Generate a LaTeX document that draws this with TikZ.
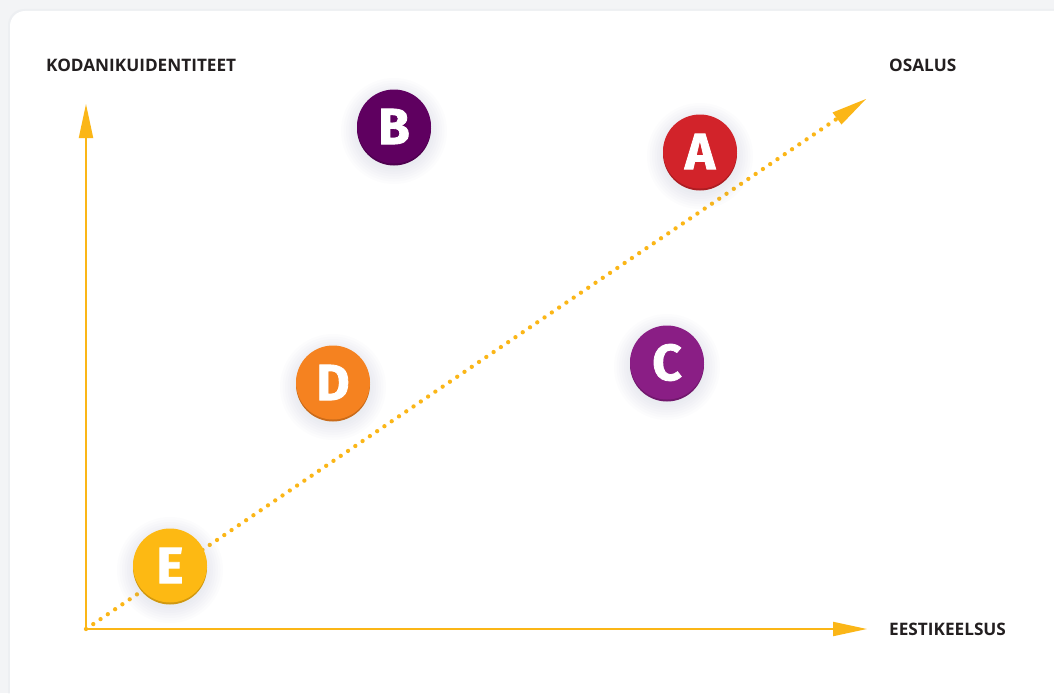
\documentclass[tikz,border=0pt]{standalone}
\usepackage{fontspec}
\setmainfont{Open Sans}
\newfontfamily\letterfont[FakeBold=1.6]{Fira Sans}
\usetikzlibrary{arrows.meta,calc}
\definecolor{axisyellow}{HTML}{FBB617}
\definecolor{cA}{HTML}{D2232A}
\definecolor{cB}{HTML}{5F0060}
\definecolor{cC}{HTML}{8A1E85}
\definecolor{cD}{HTML}{F58220}
\definecolor{cE}{HTML}{FDB913}
\definecolor{labeltext}{HTML}{231F20}
\definecolor{pagebg}{HTML}{F3F4F6}
\definecolor{shadowcol}{HTML}{8C9BB0}
\tikzset{
  axisline/.style={draw=axisyellow, line width=2pt, -{Triangle[length=34pt,width=14pt]}},
  dotline/.style={draw=axisyellow, line width=4.3pt, line cap=round, dash pattern=on 0pt off 8.8pt},
  axislabel/.style={font=\bfseries\fontsize{17.2}{20}\selectfont, text=labeltext, inner sep=0pt, anchor=west},
  bubble/.style={circle, minimum size=74pt, inner sep=0pt, text=white, font=\letterfont\bfseries\fontsize{51}{51}\selectfont}
}
\newcommand\bubbleshadow[1]{%
  \foreach \r in {38,40.5,...,54} {\fill[shadowcol, opacity=0.022] ($(#1)+(0,4)$) circle (\r pt);}%
}
\begin{document}
\begin{tikzpicture}[x=1pt,y=-1pt]
\useasboundingbox (0,0) rectangle (1054,693);
\fill[pagebg] (0,0) rectangle (1054,693);
\fill[shadowcol, opacity=0.05, rounded corners=16pt] (8,9) rectangle (1080,720);
\fill[white, rounded corners=15pt] (10,11) rectangle (1080,720);

% axes
\coordinate (O) at (86,629);
\coordinate (Ytip) at (86,104);
\coordinate (Xtip) at (867,629);
\coordinate (Dbase) at (838,118);
\coordinate (Dtip) at (866,99);
\draw[dotline] (O) -- (Dbase);
\fill[axisyellow] (Dtip) -- (832.5,112.5) -- (841.5,124.5) -- cycle;
\draw[axisline] (O) -- (Ytip);
\draw[axisline] (O) -- (Xtip);

\node[axislabel] (ly) at (46,65) {KODANIKUIDENTITEET};
\node[axislabel] (lo) at (889,65) {OSALUS};
\node[axislabel] (lx) at (889,629) {EESTIKEELSUS};

% bubbles
\foreach \n/\x/\y in {A/700/152, B/394/127, C/667/363, D/333/383, E/170/566} {
  \coordinate (p\n) at (\x,\y);
  \bubbleshadow{p\n}
}
\foreach \n/\x/\y/\c in {A/700/152/cA, B/394/127/cB, C/667/363/cC, D/333/383/cD, E/170/566/cE} {
  \fill[\c!82!black] (\x,\y+1.5) circle (37pt);
  \node[bubble, fill=\c] (\n) at (\x,\y-0.5) {\n};
}
\end{tikzpicture}
\end{document}
